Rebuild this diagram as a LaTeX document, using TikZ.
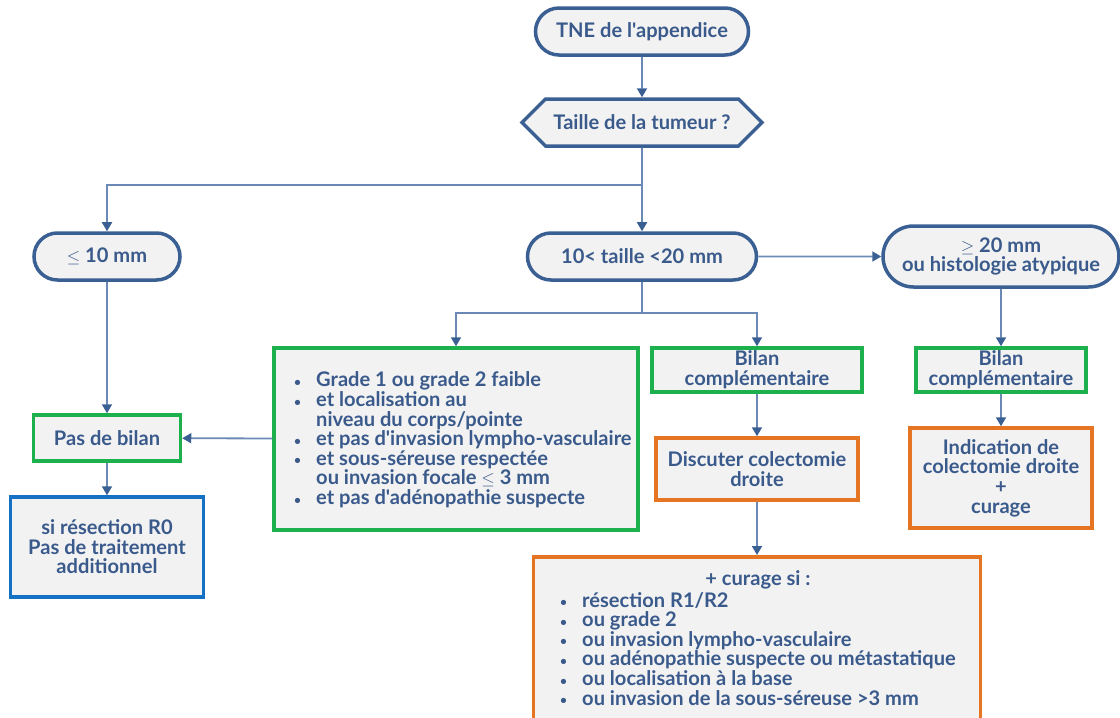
\documentclass[tikz,border=0pt]{standalone}
\usepackage{fontspec}
\setmainfont{Lato}[Ligatures=TeXOff]
\usetikzlibrary{shapes.misc,shapes.symbols,arrows.meta}
\definecolor{txt}{HTML}{3A5A8C}
\definecolor{navy}{HTML}{3A5F92}
\definecolor{conncol}{HTML}{6A89B5}
\definecolor{tipcol}{HTML}{3A5F92}
\definecolor{grn}{HTML}{1DB14E}
\definecolor{orng}{HTML}{E67523}
\definecolor{blu}{HTML}{1571C4}
\definecolor{boxfill}{HTML}{F2F2F2}
\newcommand\bul{\makebox[22pt][l]{\fontsize{12}{12}\selectfont\raisebox{0.5pt}{\textbullet}}}
\newcommand\ind{\hspace*{22pt}}
\newcommand\sle{{\fontsize{17}{17}\selectfont$\leq$}}
\newcommand\sge{{\fontsize{17}{17}\selectfont$\geq$}}
\begin{document}
\begin{tikzpicture}[x=1pt,y=-1pt,
  font=\fontsize{20.1}{19.6}\selectfont\bfseries,
  base/.style={fill=boxfill, text=txt, inner sep=0pt, align=center},
  stad/.style={base, rounded rectangle, draw=navy, line width=3.5pt},
  hexa/.style={base, signal, signal to=west and east, draw=navy, line width=3.5pt},
  gbox/.style={base, rectangle, draw=grn, line width=3.5pt},
  obox/.style={base, rectangle, draw=orng, line width=3.5pt},
  bbox/.style={base, rectangle, draw=blu, line width=3.5pt},
  txtnode/.style={text=txt, inner sep=0pt, align=left},
  conn/.style={draw=conncol, line width=1.8pt, -{Triangle[width=10pt,length=9pt,color=tipcol]}},
  plain/.style={draw=conncol, line width=1.8pt}
]
\useasboundingbox (0,0) rectangle (1120,718);
\clip (0,0) rectangle (1120,718);

% nodes
\node[stad, minimum width=213pt, minimum height=47pt] (tne) at (642,31.5) {TNE de l'appendice};
\node[hexa, minimum width=240pt, minimum height=47pt] (taille) at (642,122.5) {Taille de la tumeur ?};
\node[stad, minimum width=146pt, minimum height=47pt] (le10) at (107,256.5) {\sle{} 10 mm};
\node[stad, minimum width=229pt, minimum height=47pt] (mid) at (642,256.5) {10< taille <20 mm};
\node[stad, minimum width=236pt, minimum height=61pt] (ge20) at (1001,256.5) {\sge{} 20 mm\\ou histologie atypique};

\node[gbox, minimum width=364pt, minimum height=182pt] (green1) at (456,439) {};
\node[txtnode, anchor=west] (green1t) at (294,440) {%
\bul Grade 1 ou grade 2 faible\\
\bul et localisation au\\
\ind niveau du corps/pointe\\
\bul et pas d'invasion lympho-vasculaire\\
\bul et sous-séreuse respectée\\
\ind ou invasion focale \sle{} 3 mm\\
\bul et pas d'adénopathie suspecte};

\node[gbox, minimum width=210pt, minimum height=44pt] (bilan1) at (757,370) {Bilan\\complémentaire};
\node[gbox, minimum width=170pt, minimum height=44pt] (bilan2) at (1001,370) {Bilan\\complémentaire};
\node[obox, minimum width=202pt, minimum height=62pt] (disc) at (757,469) {Discuter colectomie\\droite};
\node[obox, minimum width=182pt, minimum height=100pt] (indic) at (1001,478) {Indication de\\colectomie droite\\+\\curage};
\node[gbox, minimum width=147pt, minimum height=46pt] (pasb) at (107,438) {Pas de bilan};
\node[bbox, minimum width=193pt, minimum height=100pt] (blue) at (107,547) {si résection R0\\Pas de traitement\\additionnel};

\node[obox, minimum width=447pt, minimum height=200pt, anchor=north] (curage) at (757,555) {};
\node[txtnode, align=center] (curaget) at (758,580) {+ curage si :};
\node[txtnode, anchor=north west] (curagel) at (560,592) {%
\bul résection R1/R2\\
\bul ou grade 2\\
\bul ou invasion lympho-vasculaire\\
\bul ou adénopathie suspecte ou métastatique\\
\bul ou localisation à la base\\
\bul ou invasion de la sous-séreuse >3 mm};

% coordinates
\coordinate (split1) at (642,185);
\coordinate (split2) at (642,313);

% connectors
\draw[conn] (tne) -- (taille);
\draw[plain] (taille) -- (split1);
\draw[conn] (split1) -| (le10);
\draw[conn] (split1) -- (mid);
\draw[conn] (mid) -- (ge20);
\draw[plain] (mid) -- (split2);
\draw[conn] (split2) -| (green1);
\draw[conn] (split2) -| (bilan1);
\draw[conn] (ge20) -- (bilan2);
\draw[conn] (bilan1) -- (disc);
\draw[conn] (disc) -- (curage);
\draw[conn] (bilan2) -- (indic);
\draw[conn] (le10) -- (pasb);
\draw[conn] (green1) -- (pasb);
\draw[conn] (pasb) -- (blue);
\end{tikzpicture}
\end{document}
